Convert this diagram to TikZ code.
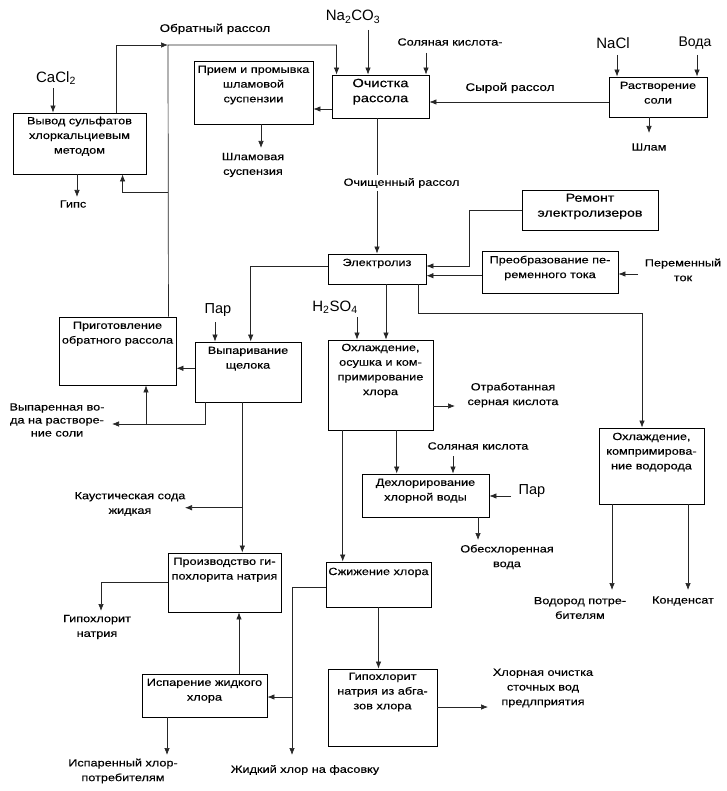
\documentclass[tikz,border=0pt]{standalone}
\usepackage{fontspec}
\setmainfont{Liberation Sans}[FakeStretch=1.22,FakeBold=0.3]
\newfontfamily\formfont{Liberation Sans}
\usetikzlibrary{arrows.meta,calc}
\begin{document}
\begin{tikzpicture}[x=1pt,y=-1pt,
  box/.style={draw=black, line width=0.9pt, inner sep=0pt},
  txt/.style={font=\fontsize{10.4}{14.7}\selectfont, align=center, inner sep=1pt},
  bigtxt/.style={font=\fontsize{12}{15}\selectfont, align=center, inner sep=1pt},
  lbl/.style={font=\fontsize{10.4}{14.7}\selectfont, align=center, inner sep=1pt},
  big/.style={font=\formfont\fontsize{15}{18}\selectfont, inner sep=1pt},
  ln/.style={line width=0.7pt, draw=black!85},
  arr/.style={ln, -{Latex[length=7pt,width=5.5pt]}}]
\fill[white] (0,0) rectangle (726,791);
\useasboundingbox (0,0) rectangle (726,791);

% boxes
\node[box, minimum width=133pt, minimum height=61pt] (vyv) at (79.5,143.5) {};
\node[box, minimum width=119pt, minimum height=63pt] (priem) at (253.5,92.5) {};
\node[box, minimum width=97pt, minimum height=43pt] (och) at (380.5,96.5) {};
\node[box, minimum width=98pt, minimum height=40pt] (rastv) at (658,97) {};
\node[box, minimum width=136pt, minimum height=40pt] (remont) at (590,210) {};
\node[box, minimum width=98pt, minimum height=30pt] (elektr) at (377,269) {};
\node[box, minimum width=136pt, minimum height=42pt] (preobr) at (550,272) {};
\node[box, minimum width=105pt, minimum height=90pt] (ohlCl) at (380.5,385) {};
\node[box, minimum width=117pt, minimum height=68pt] (prig) at (117.5,351) {};
\node[box, minimum width=106pt, minimum height=60pt] (vypar) at (248,372) {};
\node[box, minimum width=127pt, minimum height=43pt] (dehl) at (425.5,495.5) {};
\node[box, minimum width=105pt, minimum height=76pt] (ohlH) at (651.5,466) {};
\node[box, minimum width=113pt, minimum height=59pt] (proizv) at (224.5,582.5) {};
\node[box, minimum width=105pt, minimum height=45pt] (szhiz) at (378.5,584.5) {};
\node[box, minimum width=125pt, minimum height=43pt] (ispar) at (204.5,695.5) {};
\node[box, minimum width=109pt, minimum height=77pt] (gipo) at (382.5,707.5) {};

% box texts
\node[txt, anchor=north] (vyvT) at ([yshift=-3pt]vyv.north) {Вывод сульфатов\\хлоркальциевым\\методом};
\node[txt, anchor=north] (priemT) at ([yshift=-4pt]priem.north) {Прием и промывка\\шламовой\\суспензии};
\node[bigtxt, anchor=north] (ochT) at ([yshift=-3pt]och.north) {Очистка\\рассола};
\node[txt, anchor=north] (rastvT) at ([yshift=-4pt]rastv.north) {Растворение\\соли};
\node[txt, font=\fontsize{11.6}{15}\selectfont, anchor=north] (remontT) at ([yshift=-3pt]remont.north) {Ремонт\\электролизеров};
\node[txt, anchor=north] (elektrT) at ([yshift=-4pt]elektr.north) {Электролиз};
\node[txt, anchor=north] (preobrT) at ([yshift=-4pt]preobr.north) {Преобразование пе-\\ременного тока};
\node[txt, anchor=north] (ohlClT) at ([yshift=-3pt]ohlCl.north) {Охлаждение,\\осушка и ком-\\примирование\\хлора};
\node[txt, anchor=north] (prigT) at ([yshift=-4pt]prig.north) {Приготовление\\обратного рассола};
\node[txt, anchor=north] (vyparT) at ([yshift=-4pt]vypar.north) {Выпаривание\\щелока};
\node[txt, anchor=north] (dehlT) at ([yshift=-4pt]dehl.north) {Дехлорирование\\хлорной воды};
\node[txt, anchor=north] (ohlHT) at ([yshift=-4pt]ohlH.north) {Охлаждение,\\компримирова-\\ние водорода};
\node[txt, anchor=north] (proizvT) at ([yshift=-4pt]proizv.north) {Производство ги-\\похлорита натрия};
\node[txt, anchor=north] (szhizT) at ([yshift=-5pt]szhiz.north) {Сжижение хлора};
\node[txt, anchor=north] (isparT) at ([yshift=-4pt]ispar.north) {Испарение жидкого\\хлора};
\node[txt, anchor=north] (gipoT) at ([yshift=-3pt]gipo.north) {Гипохлорит\\натрия из абга-\\зов хлора};

% free labels
\node[big] (cacl) at (56,78) {CaCl\textsubscript{2}};
\node[lbl] (gips) at (73,204) {Гипс};
\node[lbl, font=\fontsize{11}{14}\selectfont] (obr) at (215,29) {Обратный рассол};
\node[big] (na) at (353,17) {Na\textsubscript{2}CO\textsubscript{3}};
\node[lbl] (hcl) at (450,42) {Соляная кислота-};
\node[big] (nacl) at (613,43) {NaCl};
\node[big, font=\formfont\fontsize{14}{17}\selectfont] (voda) at (695,43) {Вода};
\node[lbl, font=\fontsize{11}{14}\selectfont] (syr) at (510,88) {Сырой рассол};
\node[lbl] (shlam) at (649,147) {Шлам};
\node[lbl] (slsusp) at (253,165) {Шламовая\\суспензия};
\node[lbl] (pertok) at (683,270) {Переменный\\ток};
\node[big] (h2so4) at (335,307) {H\textsubscript{2}SO\textsubscript{4}};
\node[big, font=\formfont\fontsize{14.5}{17}\selectfont] (par) at (218,310) {Пар};
\node[lbl] (otrab) at (513,395) {Отработанная\\серная кислота};
\node[lbl, font=\fontsize{10.4}{13}\selectfont] (vyvoda) at (57,420) {Выпаренная во-\\да на растворе-\\ние соли};
\node[lbl] (kaust) at (130,504) {Каустическая сода\\жидкая};
\node[lbl] (hcl2) at (478,446) {Соляная кислота};
\node[big, font=\formfont\fontsize{14.5}{17}\selectfont] (par2) at (532,491) {Пар};
\node[lbl] (obeshl) at (507,557) {Обесхлоренная\\вода};
\node[lbl] (vodpot) at (580,608) {Водород потре-\\бителям};
\node[lbl] (kond) at (683,601) {Конденсат};
\node[lbl] (gipnat) at (97,627) {Гипохлорит\\натрия};
\node[lbl] (isppot) at (123,771) {Испаренный хлор-\\потребителям};
\node[lbl] (zhidk) at (305,770) {Жидкий хлор на фасовку};
\node[lbl] (hlorochi) at (543,688) {Хлорная очистка\\сточных вод\\предлприятия};

% connector free ends
\coordinate (caA) at (53,88);
\coordinate (gpA) at (77,197);
\coordinate (rtop) at (168,45);
\coordinate (rbr) at (168,192);
\coordinate (naA) at (368,30);
\coordinate (hclA) at (426,53);
\coordinate (naclA) at (617,55);
\coordinate (vodaA) at (697,55);
\coordinate (slA) at (261,148);
\coordinate (shA) at (649,133);
\coordinate (rmA) at (469,266);
\coordinate (ptA) at (638,274);
\coordinate (h2A) at (357,317);
\coordinate (hB) at (642,313);
\coordinate (otrA) at (455,406);
\coordinate (parA) at (215,322);
\coordinate (vwA) at (112,424);
\coordinate (vwB) at (146,424);
\coordinate (ksB) at (242.3,507.7);
\coordinate (ksA) at (185,507.7);
\coordinate (hcl2A) at (453,456);
\coordinate (par2A) at (511,496);
\coordinate (obA) at (478,540);
\coordinate (vdA) at (612,590);
\coordinate (kdA) at (688,590);
\coordinate (zhA) at (292,755);
\coordinate (zhB) at (292,697);
\coordinate (hoA) at (488,707);
\coordinate (gnA) at (101,611);
\coordinate (isA) at (167,755);

% connectors
\draw[arr] (caA) -- (caA |- vyv.north);
\draw[arr] (gpA |- vyv.south) -- (gpA);
\draw[arr] ([xshift=-8pt]prig.north east) -- (rtop) -| ([xshift=5pt]och.north west);
\draw[arr] ([xshift=104pt]vyv.north west) |- (rtop);
\draw[arr] (rbr) -| ([xshift=110pt]vyv.south west);
\draw[arr] (naA) -- (naA |- och.north);
\draw[arr] (hclA) -- (hclA |- och.north);
\draw[arr] (naclA) -- (naclA |- rastv.north);
\draw[arr] (vodaA) -- (vodaA |- rastv.north);
\draw[arr] ([yshift=-5pt]rastv.west) -- ([yshift=-5pt]rastv.west -| och.east);
\draw[arr] ([yshift=-12.5pt]och.west) -- ([yshift=-12.5pt]och.west -| priem.east);
\draw[arr] (slA |- priem.south) -- (slA);
\draw[arr] (shA |- rastv.south) -- (shA);
\draw[arr] (och.south -| elektr.north) -- (elektr.north);
\draw[arr] (remont.west) -| (rmA) -- (rmA -| elektr.east);
\draw[arr] ([yshift=-3.7pt]preobr.west) -- ([yshift=-3.7pt]preobr.west -| elektr.east);
\draw[arr] (ptA) -- (ptA -| preobr.east);
\draw[arr] ([yshift=2.3pt]elektr.west) -| ([xshift=2.7pt]vypar.north);
\draw[arr] ([xshift=9pt]elektr.south) -- ([xshift=9pt]elektr.south |- ohlCl.north);
\draw[arr] (h2A) -- (h2A |- ohlCl.north);
\draw[arr] ([xshift=41.3pt]elektr.south) |- (hB) -- (hB |- ohlH.north);
\draw[arr] (otrA -| ohlCl.east) -- (otrA);
\draw[arr] (parA) -- (parA |- vypar.north);
\draw[arr] ([yshift=3.7pt]vypar.west) -- ([yshift=3.7pt]vypar.west -| prig.east);
\draw[arr] ([xshift=-42.3pt]vypar.south) |- (vwA);
\draw[arr] (vwB) -- (vwB |- prig.south);
\draw[arr] ([xshift=-5.7pt]vypar.south) -- ([xshift=-5.7pt]vypar.south |- proizv.north);
\draw[arr] (ksB) -- (ksA);
\draw[arr] ([xshift=16.2pt]ohlCl.south) -- ([xshift=16.2pt]ohlCl.south |- dehl.north);
\draw[arr] ([xshift=-37.8pt]ohlCl.south) -- ([xshift=-37.8pt]ohlCl.south |- szhiz.north);
\draw[arr] (hcl2A) -- (hcl2A |- dehl.north);
\draw[arr] (par2A) -- (par2A -| dehl.east);
\draw[arr] (obA |- dehl.south) -- (obA);
\draw[arr] (vdA |- ohlH.south) -- (vdA);
\draw[arr] (kdA |- ohlH.south) -- (kdA);
\draw[arr] ([yshift=-2.8pt]szhiz.west) -| (zhA);
\draw[arr] (zhB) -- (zhB -| ispar.east);
\draw[arr] (szhiz.south) -- (szhiz.south |- gipo.north);
\draw[arr] (hoA -| gipo.east) -- (hoA);
\draw[arr] (proizv.west) -| (gnA);
\draw[arr] ([xshift=34.5pt]ispar.north) -- ([xshift=34.5pt]ispar.north |- proizv.south);
\draw[arr] (isA |- ispar.south) -- (isA);

% label over the line
\node[lbl, fill=white, inner sep=3pt] (ochish) at (401.5,183) {Очищенный рассол};
\end{tikzpicture}
\end{document}
